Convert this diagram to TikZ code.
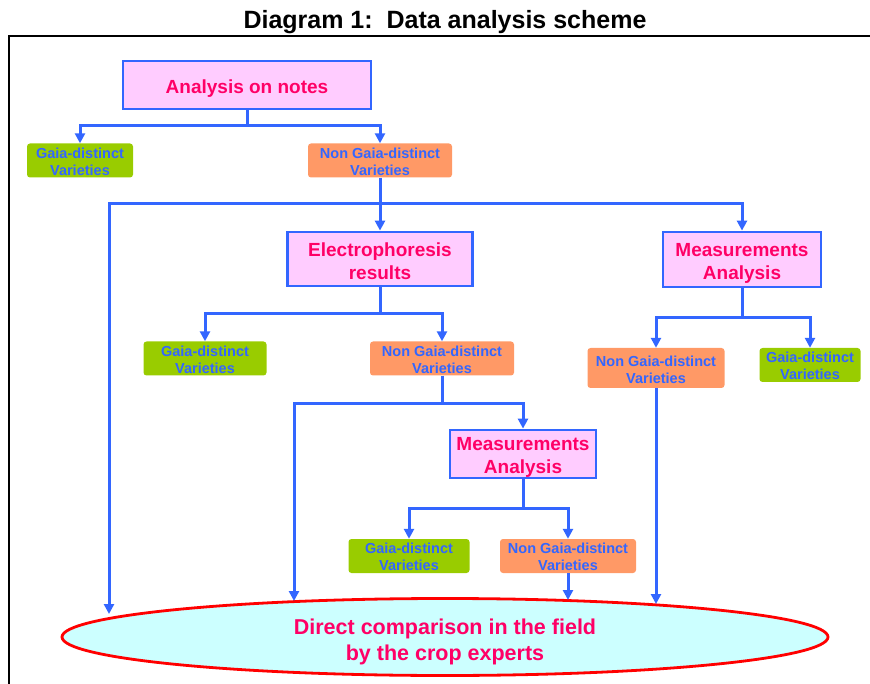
\documentclass[tikz,border=0pt]{standalone}
\usepackage{fontspec}
\setmainfont{Liberation Sans}
\usetikzlibrary{arrows.meta,shapes.geometric}
\definecolor{lblue}{HTML}{3366FF}
\definecolor{pinkfill}{HTML}{FFCCFF}
\definecolor{magtext}{HTML}{FF0066}
\definecolor{gfill}{HTML}{99CC00}
\definecolor{ofill}{HTML}{FF9966}
\definecolor{cfill}{HTML}{CCFFFF}
\definecolor{redline}{HTML}{FF0000}
\newcommand{\lowtext}[2]{\raisebox{-#1}[\height][\depth]{\begin{tabular}{@{}c@{}}#2\end{tabular}}}
\begin{document}
\begin{tikzpicture}[x=1pt,y=-1pt,
  bigbox/.style={draw=lblue,line width=2.8pt,fill=pinkfill,text=magtext,font=\bfseries\fontsize{19}{23}\selectfont,inner sep=0pt},
  smallbox/.style={rounded corners=3pt,text=lblue,font=\bfseries\fontsize{14.5}{17}\selectfont,inner sep=0pt,minimum height=33pt},
  gbox/.style={smallbox,fill=gfill},
  obox/.style={smallbox,fill=ofill},
  conn/.style={draw=lblue,line width=3pt},
  arr/.style={conn,-{Triangle[length=10pt,width=10pt]}},
  ]
\useasboundingbox (0,0) rectangle (870,684);
% frame and title
\draw[line width=2pt] (9,684) -- (9,36) -- (870,36);
\node[font=\bfseries\fontsize{25}{29}\selectfont,inner sep=0pt] (title) at (445,20) {\lowtext{3pt}{Diagram 1:\ \ Data analysis scheme}};
% boxes
\node[bigbox,minimum width=248pt,minimum height=48pt] (notes) at (247,85) {\lowtext{4pt}{Analysis on notes}};
\node[gbox,minimum width=106pt] (g1) at (80,160.5) {\lowtext{3pt}{Gaia-distinct\\Varieties}};
\node[obox,minimum width=144pt] (o1) at (380,160.5) {\lowtext{3pt}{Non Gaia-distinct\\Varieties}};
\node[bigbox,minimum width=185pt,minimum height=54pt] (elec) at (380,259) {\lowtext{4pt}{Electrophoresis\\results}};
\node[bigbox,minimum width=158pt,minimum height=55pt] (measR) at (742,259.5) {\lowtext{3.5pt}{Measurements\\Analysis}};
\node[gbox,minimum width=123pt] (g2) at (205,358.5) {\lowtext{3pt}{Gaia-distinct\\Varieties}};
\node[obox,minimum width=144pt] (o2) at (442,358.5) {\lowtext{3pt}{Non Gaia-distinct\\Varieties}};
\node[obox,minimum width=137pt,minimum height=40pt] (o3) at (656,368) {\lowtext{3.5pt}{Non Gaia-distinct\\Varieties}};
\node[gbox,minimum width=101pt,minimum height=34pt] (g3) at (810,365) {\lowtext{3pt}{Gaia-distinct\\Varieties}};
\node[bigbox,minimum width=146pt,minimum height=48pt] (measL) at (523,454) {\lowtext{3pt}{Measurements\\Analysis}};
\node[gbox,minimum width=121pt,minimum height=34pt] (g4) at (409,556) {\lowtext{3pt}{Gaia-distinct\\Varieties}};
\node[obox,minimum width=136pt,minimum height=34pt] (o4) at (568,556) {\lowtext{3pt}{Non Gaia-distinct\\Varieties}};
\node[ellipse,draw=redline,line width=2.8pt,fill=cfill,minimum width=766pt,minimum height=77pt,inner sep=0pt,text=magtext,font=\bfseries\fontsize{21.5}{26}\selectfont] (ell) at (445,637) {\lowtext{5pt}{Direct comparison in the field\\by the crop experts}};
% free ends on the ellipse
\coordinate (e1) at (109,614);
\coordinate (e2) at (294,601);
\coordinate (e3) at (568,600);
\coordinate (e4) at (656,604);
\coordinate (j1) at (247,126);
\coordinate (j2) at (380,204);
\coordinate (j3) at (380,314);
\coordinate (j4) at (442,403);
\coordinate (j5) at (523,508);
\coordinate (j6) at (742,318);
% connectors
\draw[conn] (notes.south) -- (j1);
\draw[arr] (j1) -| (g1.north);
\draw[arr] (j1) -| (o1.north);
\draw[arr] (o1.south) -- (elec.north);
\draw[arr] (j2) -| (e1);
\draw[arr] (j2) -| (measR.north);
\draw[conn] (elec.south) -- (j3);
\draw[arr] (j3) -| (g2.north);
\draw[arr] (j3) -| (o2.north);
\draw[conn] (o2.south) -- (j4);
\draw[arr] (j4) -| (e2);
\draw[arr] (j4) -| (measL.north);
\draw[conn] (measL.south) -- (j5);
\draw[arr] (j5) -| (g4.north);
\draw[arr] (j5) -| (o4.north);
\draw[arr] (o4.south) -- (e3);
\draw[conn] (measR.south) -- (j6);
\draw[arr] (j6) -| (o3.north);
\draw[arr] (j6) -| (g3.north);
\draw[arr] (o3.south) -- (e4);
\end{tikzpicture}
\end{document}
